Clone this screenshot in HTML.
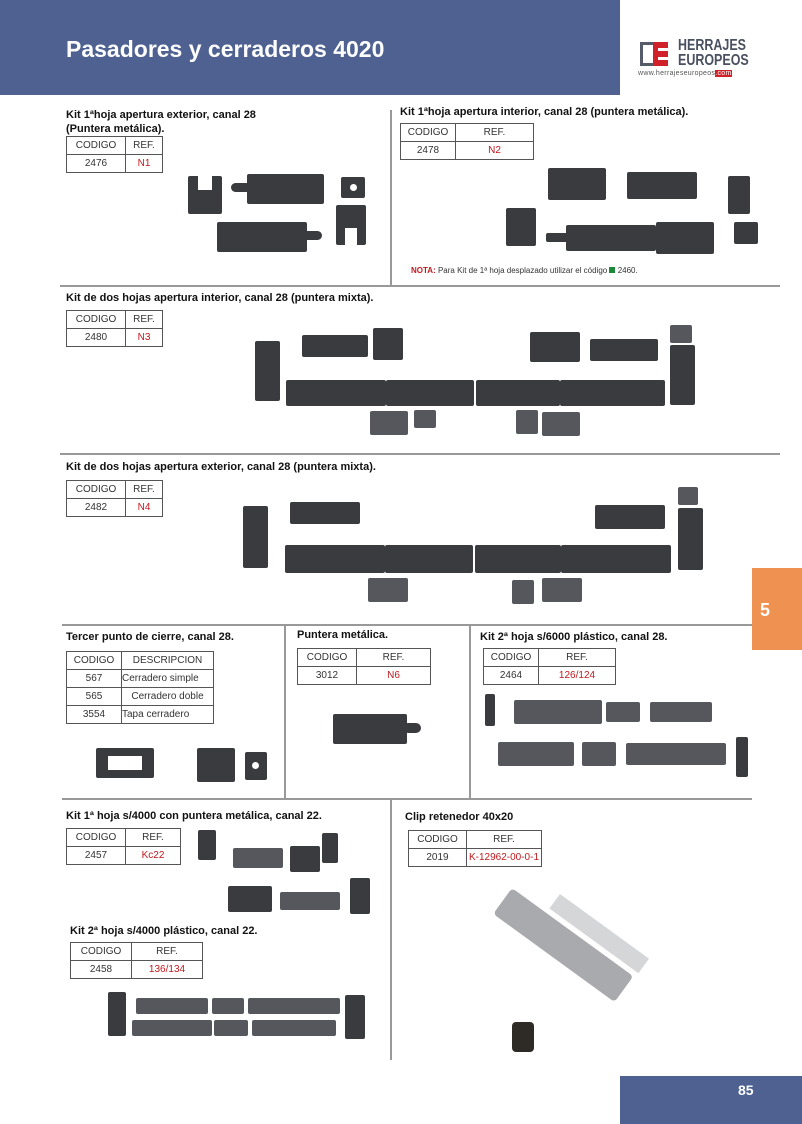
<!DOCTYPE html>
<html><head><meta charset="utf-8"><style>
body{margin:0;width:802px;height:1124px;position:relative;background:#fff;font-family:"Liberation Sans",sans-serif;overflow:hidden}
.a{position:absolute}
.hd{left:0;top:0;width:620px;height:95px;background:#4e6191}
.hd span{position:absolute;left:66px;top:36px;color:#fff;font-weight:bold;font-size:23px}
.t{position:absolute;font-weight:bold;font-size:11px;color:#111}
table{position:absolute;border-collapse:collapse;font-size:10px;color:#333}
td{border:1px solid #555;height:17px;padding:0;text-align:center}
.r{color:#c0191e}
.hl{position:absolute;height:2px;background:#999}
.vl{position:absolute;width:2px;background:#999}
.p{position:absolute;background:#3a3b3e;border-radius:2px}
.g{position:absolute;background:#55575c;border-radius:2px}
.h{position:absolute;background:#fff;border-radius:50%;width:4px;height:4px}
</style></head><body>
<div class="a hd"><span>Pasadores y cerraderos 4020</span></div>
<!-- logo -->
<div class="a" style="left:640px;top:42px;width:28px;height:24px;border:3px solid #555b68;border-right:none;box-sizing:border-box"></div>
<div class="a" style="left:653px;top:42px;width:15px;height:24px;background:#d0202a"></div>
<div class="a" style="left:658px;top:48px;width:10px;height:3px;background:#fff"></div>
<div class="a" style="left:658px;top:57px;width:10px;height:3px;background:#fff"></div>
<div class="a" style="left:678px;top:38px;font-weight:bold;font-size:16px;color:#4a5060;line-height:15px;transform:scaleX(0.78);transform-origin:0 0">HERRAJES<br>EUROPEOS</div>
<div class="a" style="left:638px;top:70px;font-size:7px;color:#555;letter-spacing:0.3px">www.herrajeseuropeos<span style="background:#d0202a;color:#fff">.com</span></div>

<!-- section 1 -->
<div class="t" style="left:66px;top:108px;line-height:14px">Kit 1ªhoja apertura exterior, canal 28<br>(Puntera metálica).</div>
<table style="left:66px;top:136px"><tr><td style="width:58px">CODIGO</td><td style="width:36px">REF.</td></tr><tr><td>2476</td><td class="r">N1</td></tr></table>
<div class="p" style="left:188px;top:176px;width:34px;height:38px"></div>
<div class="a" style="left:198px;top:176px;width:14px;height:14px;background:#fff"></div>
<div class="p" style="left:247px;top:174px;width:77px;height:30px"></div>
<div class="p" style="left:231px;top:183px;width:20px;height:9px;border-radius:5px"></div>
<div class="p" style="left:341px;top:177px;width:24px;height:21px"></div><div class="h" style="left:350px;top:184px;width:7px;height:7px"></div>
<div class="p" style="left:217px;top:222px;width:90px;height:30px"></div>
<div class="p" style="left:302px;top:231px;width:20px;height:9px;border-radius:5px"></div>
<div class="p" style="left:336px;top:205px;width:30px;height:40px"></div>
<div class="a" style="left:345px;top:228px;width:12px;height:17px;background:#fff"></div>
<div class="vl" style="left:390px;top:110px;height:176px"></div>
<!-- section 2 -->
<div class="t" style="left:400px;top:106px">Kit 1ªhoja apertura interior, canal 28 (puntera metálica).</div>
<table style="left:400px;top:123px"><tr><td style="width:54px">CODIGO</td><td style="width:77px">REF.</td></tr><tr><td>2478</td><td class="r">N2</td></tr></table>
<div class="p" style="left:548px;top:168px;width:58px;height:32px"></div>
<div class="p" style="left:627px;top:172px;width:70px;height:27px"></div>
<div class="p" style="left:728px;top:176px;width:22px;height:38px"></div>
<div class="p" style="left:506px;top:208px;width:30px;height:38px"></div>
<div class="p" style="left:566px;top:225px;width:90px;height:26px"></div>
<div class="p" style="left:546px;top:233px;width:22px;height:9px"></div>
<div class="p" style="left:656px;top:222px;width:58px;height:32px"></div>
<div class="p" style="left:734px;top:222px;width:24px;height:22px"></div>
<div class="a" style="left:411px;top:266px;font-size:8px;color:#333"><b style="color:#c0191e">NOTA:</b> Para Kit de 1ª hoja desplazado utilizar el código <span style="display:inline-block;width:6px;height:6px;background:#1a8a3a"></span> 2460.</div>
<div class="hl" style="left:60px;top:285px;width:720px"></div>

<!-- section 3 -->
<div class="t" style="left:66px;top:292px">Kit de dos hojas apertura interior, canal 28 (puntera mixta).</div>
<table style="left:66px;top:310px"><tr><td style="width:58px">CODIGO</td><td style="width:36px">REF.</td></tr><tr><td>2480</td><td class="r">N3</td></tr></table>
<div class="p" style="left:255px;top:341px;width:25px;height:60px"></div>
<div class="p" style="left:302px;top:335px;width:66px;height:22px"></div>
<div class="p" style="left:373px;top:328px;width:30px;height:32px"></div>
<div class="p" style="left:286px;top:380px;width:100px;height:26px"></div>
<div class="p" style="left:386px;top:380px;width:88px;height:26px"></div>
<div class="p" style="left:476px;top:380px;width:84px;height:26px"></div>
<div class="p" style="left:560px;top:380px;width:105px;height:26px"></div>
<div class="g" style="left:370px;top:411px;width:38px;height:24px"></div>
<div class="g" style="left:414px;top:410px;width:22px;height:18px"></div>
<div class="g" style="left:516px;top:410px;width:22px;height:24px"></div>
<div class="g" style="left:542px;top:412px;width:38px;height:24px"></div>
<div class="p" style="left:530px;top:332px;width:50px;height:30px"></div>
<div class="p" style="left:590px;top:339px;width:68px;height:22px"></div>
<div class="g" style="left:670px;top:325px;width:22px;height:18px"></div>
<div class="p" style="left:670px;top:345px;width:25px;height:60px"></div>
<div class="hl" style="left:60px;top:453px;width:720px"></div>

<!-- section 4 -->
<div class="t" style="left:66px;top:461px">Kit de dos hojas apertura exterior, canal 28 (puntera mixta).</div>
<table style="left:66px;top:480px"><tr><td style="width:58px">CODIGO</td><td style="width:36px">REF.</td></tr><tr><td>2482</td><td class="r">N4</td></tr></table>
<div class="p" style="left:243px;top:506px;width:25px;height:62px"></div>
<div class="p" style="left:290px;top:502px;width:70px;height:22px"></div>
<div class="p" style="left:285px;top:545px;width:100px;height:28px"></div>
<div class="p" style="left:385px;top:545px;width:88px;height:28px"></div>
<div class="p" style="left:475px;top:545px;width:86px;height:28px"></div>
<div class="p" style="left:561px;top:545px;width:110px;height:28px"></div>
<div class="g" style="left:368px;top:578px;width:40px;height:24px"></div>
<div class="g" style="left:512px;top:580px;width:22px;height:24px"></div>
<div class="g" style="left:542px;top:578px;width:40px;height:24px"></div>
<div class="p" style="left:595px;top:505px;width:70px;height:24px"></div>
<div class="g" style="left:678px;top:487px;width:20px;height:18px"></div>
<div class="p" style="left:678px;top:508px;width:25px;height:62px"></div>

<div class="a" style="left:752px;top:568px;width:50px;height:82px;background:#ef9150"></div>
<div class="a" style="left:760px;top:600px;color:#fff;font-weight:bold;font-size:18px">5</div>
<div class="hl" style="left:62px;top:624px;width:690px"></div>
<div class="vl" style="left:284px;top:626px;height:173px"></div>
<div class="vl" style="left:469px;top:626px;height:173px"></div>

<!-- tercer -->
<div class="t" style="left:66px;top:631px">Tercer punto de cierre, canal 28.</div>
<table style="left:66px;top:651px"><tr><td style="width:54px">CODIGO</td><td style="width:91px">DESCRIPCION</td></tr><tr><td>567</td><td style="text-align:left">Cerradero simple</td></tr><tr><td>565</td><td>Cerradero doble</td></tr><tr><td>3554</td><td style="text-align:left">Tapa cerradero</td></tr></table>
<div class="p" style="left:96px;top:748px;width:58px;height:30px"></div>
<div class="a" style="left:108px;top:756px;width:34px;height:14px;background:#fff"></div>
<div class="p" style="left:197px;top:748px;width:38px;height:34px"></div>
<div class="p" style="left:245px;top:752px;width:22px;height:28px"></div><div class="h" style="left:252px;top:762px;width:7px;height:7px"></div>
<!-- puntera -->
<div class="t" style="left:297px;top:629px">Puntera metálica.</div>
<table style="left:297px;top:648px"><tr><td style="width:58px">CODIGO</td><td style="width:73px">REF.</td></tr><tr><td>3012</td><td class="r">N6</td></tr></table>
<div class="p" style="left:333px;top:714px;width:74px;height:30px"></div>
<div class="p" style="left:403px;top:723px;width:18px;height:10px;border-radius:5px"></div>
<!-- kit 2 -->
<div class="t" style="left:480px;top:631px">Kit 2ª hoja s/6000 plástico, canal 28.</div>
<table style="left:483px;top:648px"><tr><td style="width:54px">CODIGO</td><td style="width:76px">REF.</td></tr><tr><td>2464</td><td class="r">126/124</td></tr></table>
<div class="p" style="left:485px;top:694px;width:10px;height:32px"></div>
<div class="g" style="left:514px;top:700px;width:88px;height:24px"></div>
<div class="g" style="left:606px;top:702px;width:34px;height:20px"></div>
<div class="g" style="left:650px;top:702px;width:62px;height:20px"></div>
<div class="g" style="left:498px;top:742px;width:76px;height:24px"></div>
<div class="g" style="left:582px;top:742px;width:34px;height:24px"></div>
<div class="g" style="left:626px;top:743px;width:100px;height:22px"></div>
<div class="p" style="left:736px;top:737px;width:12px;height:40px"></div>
<div class="hl" style="left:62px;top:798px;width:690px"></div>
<div class="vl" style="left:390px;top:800px;height:260px"></div>

<!-- kit 1 4000 -->
<div class="t" style="left:66px;top:810px">Kit 1ª hoja s/4000 con puntera metálica, canal 22.</div>
<table style="left:66px;top:828px"><tr><td style="width:58px">CODIGO</td><td style="width:54px">REF.</td></tr><tr><td>2457</td><td class="r">Kc22</td></tr></table>
<div class="p" style="left:198px;top:830px;width:18px;height:30px"></div>
<div class="g" style="left:233px;top:848px;width:50px;height:20px"></div>
<div class="p" style="left:290px;top:846px;width:30px;height:26px"></div>
<div class="p" style="left:322px;top:833px;width:16px;height:30px"></div>
<div class="p" style="left:228px;top:886px;width:44px;height:26px"></div>
<div class="g" style="left:280px;top:892px;width:60px;height:18px"></div>
<div class="p" style="left:350px;top:878px;width:20px;height:36px"></div>
<div class="t" style="left:70px;top:925px">Kit 2ª hoja s/4000 plástico, canal 22.</div>
<table style="left:70px;top:942px"><tr><td style="width:60px">CODIGO</td><td style="width:70px">REF.</td></tr><tr><td>2458</td><td class="r">136/134</td></tr></table>
<div class="p" style="left:108px;top:992px;width:18px;height:44px"></div>
<div class="g" style="left:136px;top:998px;width:72px;height:16px"></div>
<div class="g" style="left:212px;top:998px;width:32px;height:16px"></div>
<div class="g" style="left:248px;top:998px;width:92px;height:16px"></div>
<div class="g" style="left:132px;top:1020px;width:80px;height:16px"></div>
<div class="g" style="left:214px;top:1020px;width:34px;height:16px"></div>
<div class="g" style="left:252px;top:1020px;width:84px;height:16px"></div>
<div class="p" style="left:345px;top:995px;width:20px;height:44px"></div>
<!-- clip -->
<div class="t" style="left:405px;top:811px">Clip retenedor 40x20</div>
<table style="left:408px;top:830px"><tr><td style="width:57px">CODIGO</td><td style="width:74px">REF.</td></tr><tr><td>2019</td><td class="r">K-12962-00-0-1</td></tr></table>
<div class="a" style="left:512px;top:888px;width:150px;height:32px;background:#a9aaad;transform:rotate(36deg);transform-origin:0 0;border-radius:4px"></div>
<div class="a" style="left:560px;top:894px;width:110px;height:18px;background:#d5d6d8;transform:rotate(36deg);transform-origin:0 0"></div>
<div class="p" style="left:512px;top:1022px;width:22px;height:30px;border-radius:4px;background:#2e2a26"></div>
<div class="a" style="left:620px;top:1076px;width:182px;height:48px;background:#4e6191"></div>
<div class="a" style="left:738px;top:1082px;color:#fff;font-weight:bold;font-size:14px">85</div>
</body></html>
